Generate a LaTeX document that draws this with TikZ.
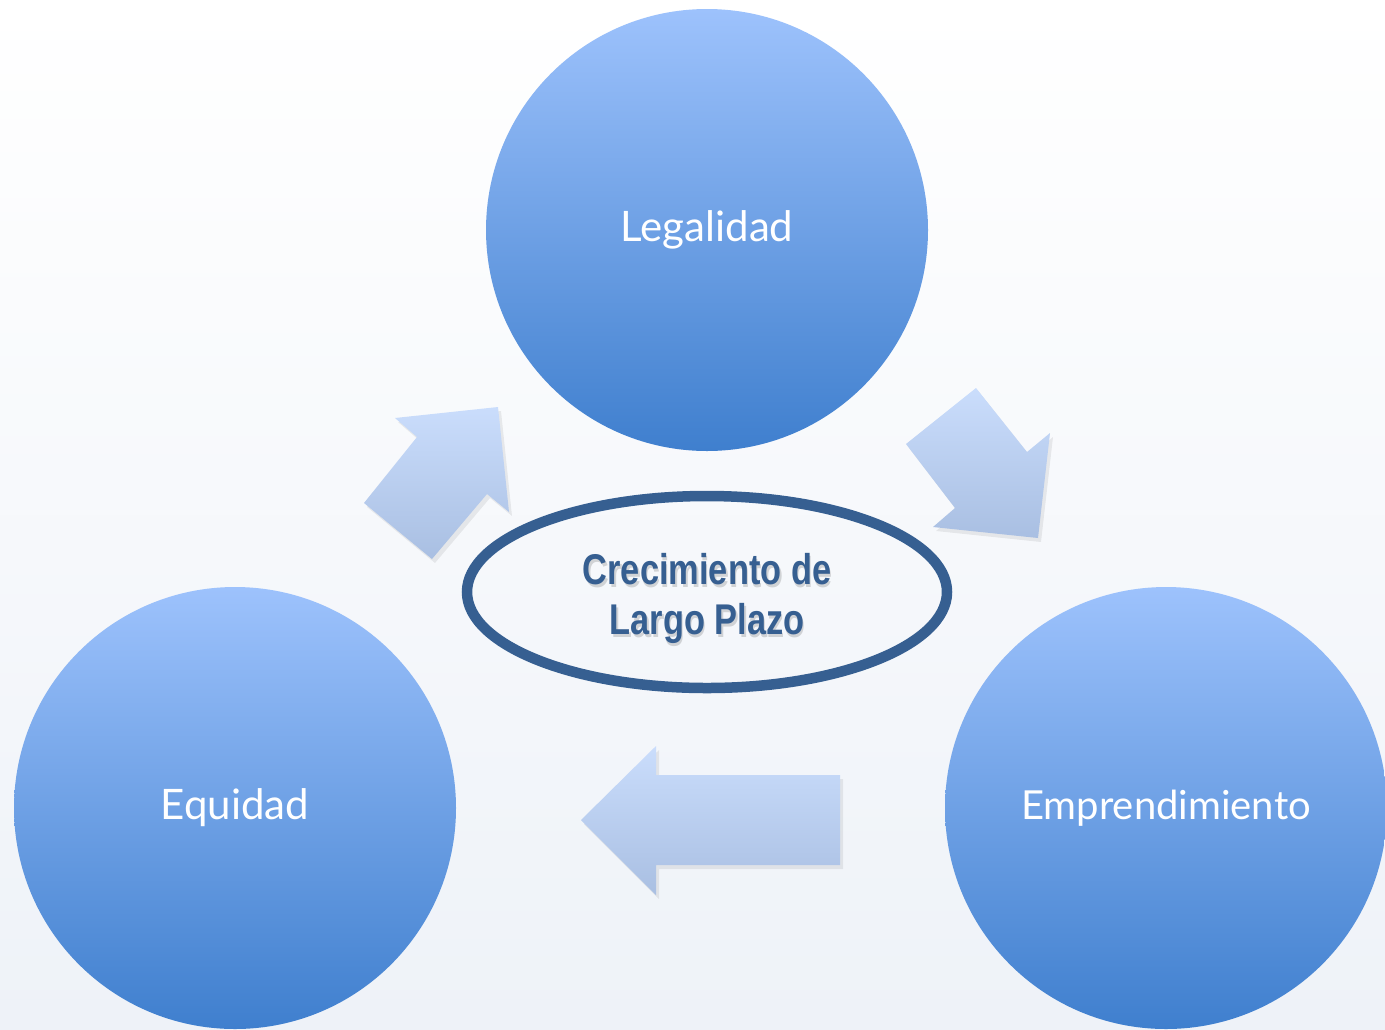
\documentclass[tikz,border=0pt]{standalone}
\usepackage{fontspec}
\setmainfont{Lato}
\newfontfamily\centrefont[FakeStretch=0.8]{Liberation Sans}
\usetikzlibrary{shapes.geometric}

\definecolor{circtop}{RGB}{157,194,252}
\definecolor{circbot}{RGB}{63,127,206}
\definecolor{arrtop}{RGB}{202,221,252}
\definecolor{arrbot}{RGB}{169,191,226}
\definecolor{ringblue}{RGB}{54,95,145}
\definecolor{bgbot}{RGB}{238,242,248}

\tikzset{
  bigcircle/.style={circle, minimum size=221pt, inner sep=0pt,
    top color=circtop, bottom color=circbot, text=white,
    font=\fontsize{21}{25}\selectfont},
  blockarrow/.style={top color=arrtop, bottom color=arrbot},
  arrowshadow/.style={fill=black, opacity=0.07}
}

\begin{document}
\begin{tikzpicture}[x=0.5pt, y=-0.5pt]

  \useasboundingbox (0,0) rectangle (1385,1029);
  \clip (0,0) rectangle (1385,1029);
  \shade[top color=white, bottom color=bgbot] (0,0) rectangle (1385,1029);

  \node[bigcircle] (legal) at (707,230) {Legalidad};
  \node[bigcircle] (equi) at (235,808) {Equidad};
  \node[bigcircle, font=\fontsize{20}{24}\selectfont] (empr) at (1166,808) {Emprendimiento};

  \fill[arrowshadow, xshift=1.5pt, yshift=-2pt]
    (498,407) -- (509,512) -- (487,494) -- (432,559) -- (364,503) -- (417,437) -- (395,418) -- cycle;
  \shade[blockarrow]
    (498,407) -- (509,512) -- (487,494) -- (432,559) -- (364,503) -- (417,437) -- (395,418) -- cycle;

  \fill[arrowshadow, xshift=1.5pt, yshift=-2pt]
    (976,388) -- (1027,452) -- (1050,433) -- (1038,538) -- (933,527) -- (955,508) -- (906,444) -- cycle;
  \shade[blockarrow]
    (976,388) -- (1027,452) -- (1050,433) -- (1038,538) -- (933,527) -- (955,508) -- (906,444) -- cycle;

  \fill[arrowshadow, xshift=1.5pt, yshift=-2pt]
    (581,820) -- (656,746) -- (656,775) -- (840,775) -- (840,865) -- (656,865) -- (656,895) -- cycle;
  \shade[blockarrow]
    (581,820) -- (656,746) -- (656,775) -- (840,775) -- (840,865) -- (656,865) -- (656,895) -- cycle;

  \node[ellipse, draw=ringblue, line width=5.25pt, minimum width=240pt, minimum height=96pt] (core) at (707,592) {};

  \node[text=black, opacity=0.15, align=center, font=\centrefont\bfseries\fontsize{21.5}{25}\selectfont] at (708.5,601) {Crecimiento de\\Largo Plazo};
  \node[text=ringblue, align=center, font=\centrefont\bfseries\fontsize{21.5}{25}\selectfont] (growth) at (707,598) {Crecimiento de\\Largo Plazo};

\end{tikzpicture}
\end{document}
